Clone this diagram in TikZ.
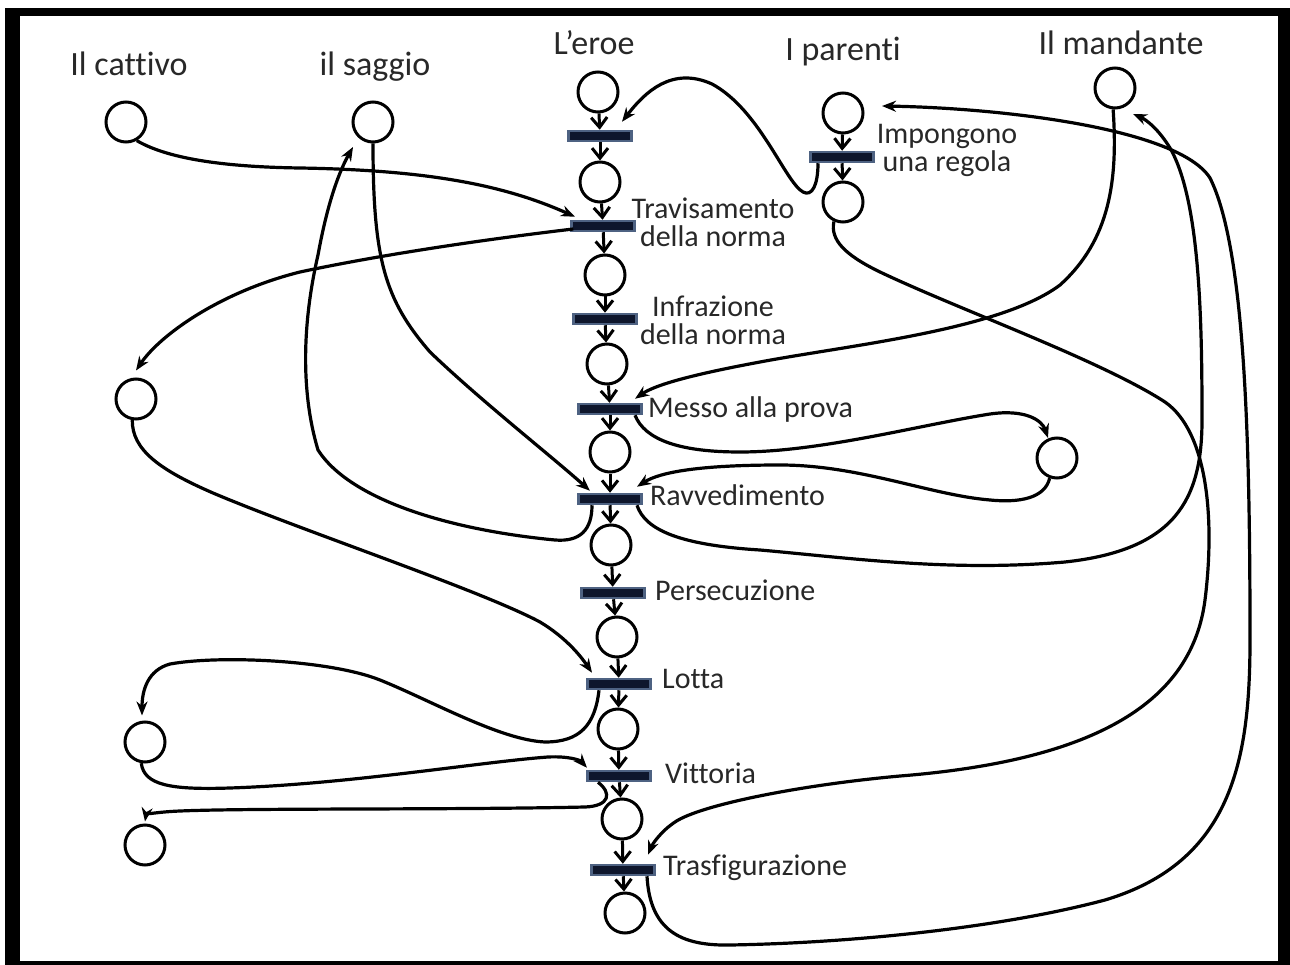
\documentclass[tikz,border=0pt]{standalone}
\usepackage{fontspec}
\setmainfont{Carlito}[Ligatures={NoCommon,NoContextual}]
\usetikzlibrary{arrows.meta,calc}
\definecolor{barblue}{RGB}{78,98,130}
\definecolor{barnavy}{RGB}{14,22,44}
\definecolor{txt}{RGB}{40,40,40}
\begin{document}
\begin{tikzpicture}[x=1pt,y=-1pt,
  place/.style={circle,draw=black,line width=3pt,minimum size=40pt,inner sep=0pt},
  trans/.style={rectangle,draw=barblue,fill=barnavy,line width=2.5pt,minimum width=63pt,minimum height=10pt,inner sep=0pt},
  lbl/.style={text=txt,font=\fontsize{30}{28}\selectfont,inner sep=0pt},
  toplbl/.style={text=txt,font=\fontsize{34}{34}\selectfont,anchor=base,inner sep=0pt},
  flow/.style={line width=3pt,-{Straight Barb[length=10pt,width=16pt]}},
  link/.style={line width=3.2pt,-{Stealth[length=14pt,width=11pt]}}]
\useasboundingbox (0,0) rectangle (1290,965);
\fill[white] (0,0) rectangle (1290,965);
\fill[black] (5,8) rectangle (1290,965);
\fill[white] (20,16) rectangle (1278,961);

% top labels
\node[toplbl] (tcat) at (129,76) {Il cattivo};
\node[toplbl] (tsag) at (375,76) {il saggio};
\node[toplbl] (tero) at (594,55) {L’eroe};
\node[toplbl] (tpar) at (843,61) {I parenti};
\node[toplbl] (tman) at (1121,55) {Il mandante};

% hero column
\node[place] (c1) at (598,92) {};
\node[trans] (b1) at (600,136) {};
\node[place] (c2) at (600,182) {};
\node[trans] (b2) at (603,226) {};
\node[place] (c3) at (605,275) {};
\node[trans] (b3) at (605,319) {};
\node[place] (c4) at (607,364) {};
\node[trans] (b4) at (610,409) {};
\node[place] (c5) at (610,452) {};
\node[trans] (b5) at (610,499) {};
\node[place] (c6) at (611,545) {};
\node[trans] (b6) at (613,593) {};
\node[place] (c7) at (617,637) {};
\node[trans] (b7) at (619,684) {};
\node[place] (c8) at (618,729) {};
\node[trans] (b8) at (619,776) {};
\node[place] (c9) at (622,819) {};
\node[trans] (b9) at (623,870) {};
\node[place] (c10) at (625,913) {};

% parents column
\node[place] (p1) at (843,113) {};
\node[trans] (bp) at (842,157) {};
\node[place] (p2) at (843,202) {};

% other places
\node[place] (cat) at (126,122) {};
\node[place] (sag) at (373,122) {};
\node[place] (mand) at (1115,88) {};
\node[place] (l1) at (136,399) {};
\node[place] (l2) at (145,742) {};
\node[place] (l3) at (145,845) {};
\node[place] (r1) at (1057,458) {};

% transition labels
\node[lbl,align=center] (lt2) at (713,222) {Travisamento\\della norma};
\node[lbl,align=center] (lt3) at (713,320) {Infrazione\\della norma};
\node[lbl,anchor=base west] (lt4) at (648,417) {Messo alla prova};
\node[lbl,anchor=base west] (lt5) at (650,505) {Ravvedimento};
\node[lbl,anchor=base west] (lt6) at (655,600) {Persecuzione};
\node[lbl,anchor=base west] (lt7) at (662,688) {Lotta};
\node[lbl,anchor=base west] (lt8) at (665,783) {Vittoria};
\node[lbl,anchor=base west] (lt9) at (663,875) {Trasfigurazione};
\node[lbl,align=center] (ltp) at (947,150) {Impongono\\una regola};

% short flow arrows
\foreach \a/\b in {c1/b1,b1/c2,c2/b2,b2/c3,c3/b3,b3/c4,c4/b4,b4/c5,c5/b5,b5/c6,c6/b6,b6/c7,c7/b7,b7/c8,c8/b8,b8/c9,c9/b9,b9/c10,p1/bp,bp/p2}
  \draw[flow] (\a) -- (\b);

% 1 parents' transition -> hero first transition
\draw[link] ([xshift=-24pt]bp.south) .. controls (818,185) and (812,197) .. (803,192)
  .. controls (785,182) and (760,110) .. (712,84)
  .. controls (672,66) and (645,92) .. ([xshift=22pt,yshift=8pt]b1.north);
% 2 cattivo -> travisamento
\draw[link] (cat.-60) .. controls (170,160) and (230,167) .. (300,168)
  .. controls (420,170) and (500,183) .. ([xshift=-28pt,yshift=3pt]b2.north);
% 3 travisamento -> L1
\draw[link] ([xshift=3pt,yshift=-3pt]b2.west) .. controls (480,240) and (380,255) .. (300,272)
  .. controls (220,292) and (160,335) .. ([yshift=7pt]l1.north);
% 4 saggio -> ravvedimento
\draw[link] (sag.south) .. controls (373,260) and (385,300) .. (430,352)
  .. controls (480,400) and (550,455) .. ([xshift=-20pt,yshift=2pt]b5.north);
% 5 ravvedimento -> saggio
\draw[link] ([xshift=-18pt]b5.south) .. controls (592,530) and (580,542) .. (555,540)
  .. controls (450,530) and (350,500) .. (318,450)
  .. controls (300,390) and (303,320) .. (318,255)
  .. controls (328,200) and (340,170) .. ([xshift=-20pt,yshift=-25pt]sag.center);
% 6 L1 -> lotta
\draw[link] (l1.-100) .. controls (132,450) and (160,470) .. (213,493)
  .. controls (300,530) and (480,590) .. (540,622)
  .. controls (565,637) and (580,655) .. ([xshift=-27pt,yshift=5pt]b7.north);
% 7 lotta -> L2
\draw[link] ([xshift=-20pt]b7.south) .. controls (595,725) and (580,742) .. (545,742)
  .. controls (500,740) and (430,700) .. (380,680)
  .. controls (330,660) and (220,655) .. (170,664)
  .. controls (148,670) and (142,690) .. ([xshift=-3pt,yshift=5pt]l2.north);
% 8 L2 -> vittoria
\draw[link] (l2.-100) .. controls (144,785) and (170,790) .. (230,788)
  .. controls (350,784) and (480,762) .. (548,757)
  .. controls (568,756) and (580,760) .. ([xshift=-32pt,yshift=2pt]b8.north);
% 9 vittoria -> L3
\draw[link] ([xshift=-21pt]b8.south) .. controls (612,793) and (610,806) .. (585,807)
  .. controls (450,810) and (250,808) .. (180,811)
  .. controls (155,812) and (146,815) .. ([yshift=2pt]l3.north);
% 10 messo alla prova -> R1
\draw[link] ([xshift=25pt]b4.south) .. controls (645,440) and (680,452) .. (740,452)
  .. controls (820,452) and (920,425) .. (990,414)
  .. controls (1025,409) and (1042,420) .. ([xshift=-9pt,yshift=20pt]r1.center);
% 11 R1 -> ravvedimento
\draw[link] (r1.-110) .. controls (1045,498) and (1020,503) .. (990,500)
  .. controls (930,495) and (860,465) .. (780,465)
  .. controls (700,465) and (660,472) .. ([xshift=27pt,yshift=6pt]b5.north);
% 12 ravvedimento -> mandante
\draw[link] ([xshift=27pt]b5.south) .. controls (645,530) and (680,545) .. (760,550)
  .. controls (850,558) and (950,572) .. (1065,562)
  .. controls (1175,550) and (1202,500) .. (1202,420)
  .. controls (1202,320) and (1200,200) .. (1170,148)
  .. controls (1159,130) and (1147,120) .. ([xshift=18pt,yshift=-26pt]mand.center);
% 13 mandante -> messo alla prova
\draw[link] (mand.-95) .. controls (1118,180) and (1110,240) .. (1060,285)
  .. controls (1000,330) and (850,345) .. (760,362)
  .. controls (690,375) and (655,385) .. ([xshift=25pt,yshift=4pt]b4.north);
% 14 parenti -> trasfigurazione
\draw[link] (p2.-115) .. controls (830,240) and (845,255) .. (880,272)
  .. controls (960,310) and (1100,360) .. (1165,402)
  .. controls (1208,432) and (1215,520) .. (1205,600)
  .. controls (1192,700) and (1100,760) .. (900,776)
  .. controls (800,785) and (700,805) .. (675,822)
  .. controls (660,832) and (652,845) .. ([xshift=25pt,yshift=9pt]b9.north);
% 15 trasfigurazione -> parenti
\draw[link] ([xshift=24pt]b9.south) .. controls (650,930) and (680,946) .. (730,945)
  .. controls (850,943) and (1000,928) .. (1105,900)
  .. controls (1232,862) and (1250,760) .. (1250,640)
  .. controls (1250,450) and (1246,250) .. (1210,178)
  .. controls (1178,128) and (1000,108) .. ([xshift=39pt,yshift=7pt]p1.center);
\end{tikzpicture}
\end{document}
